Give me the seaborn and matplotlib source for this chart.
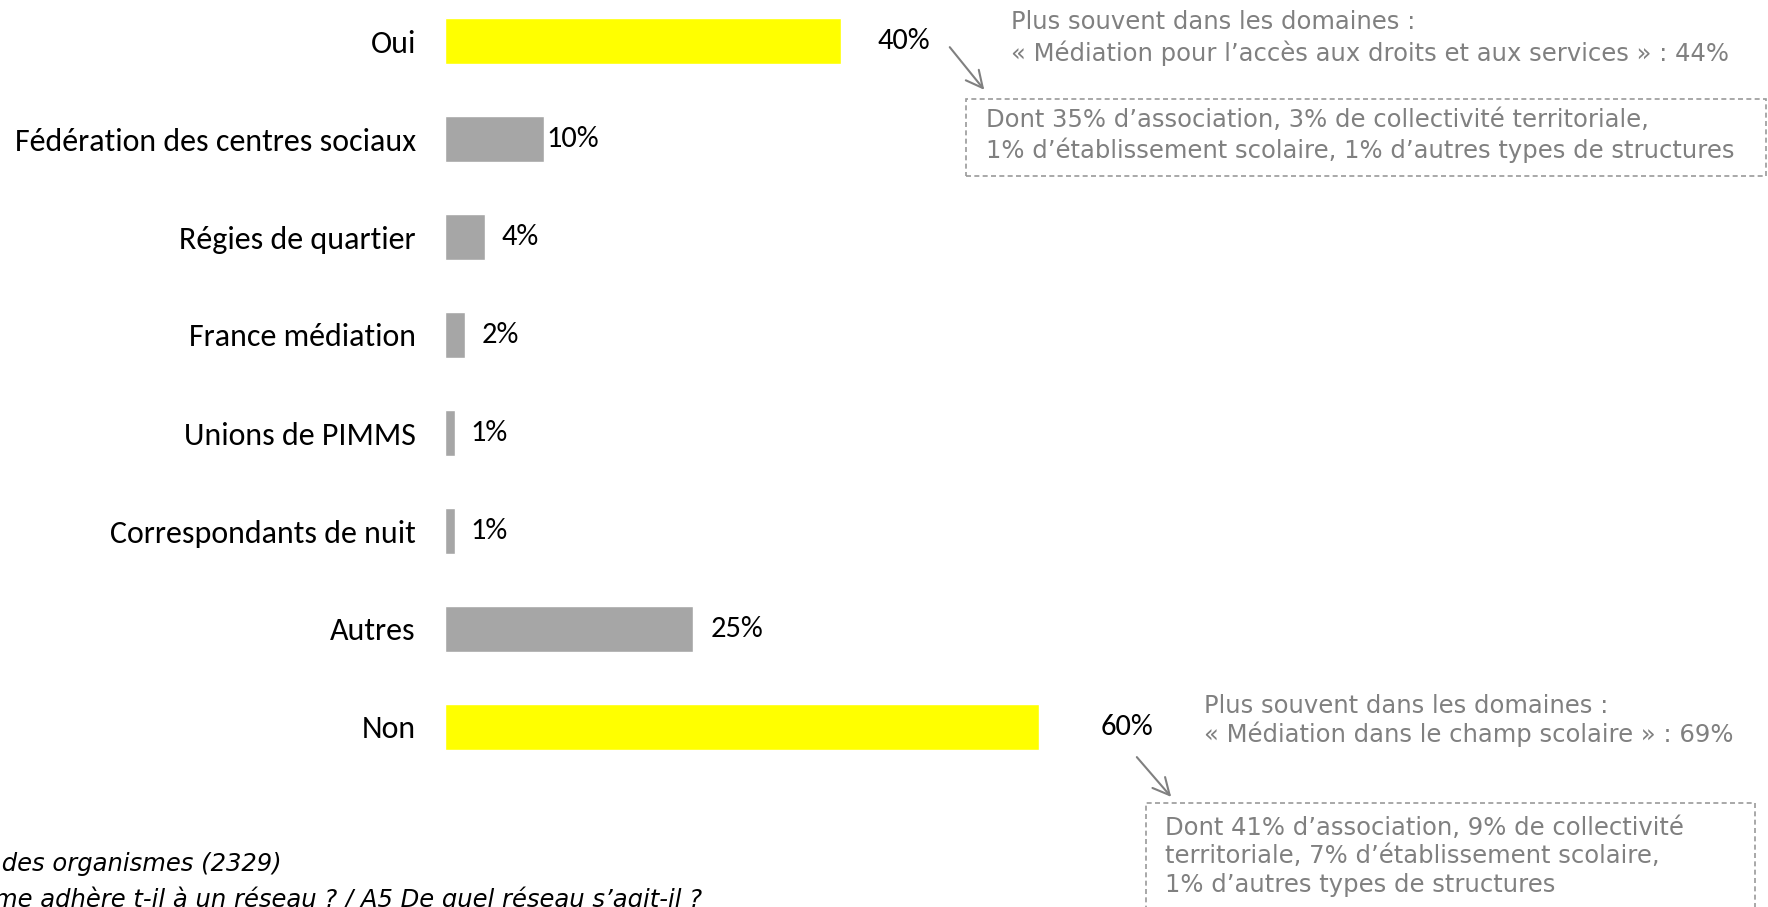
import matplotlib
matplotlib.use("Agg")
import matplotlib.pyplot as plt
import seaborn as sns
import pandas as pd
from matplotlib.patches import Rectangle, FancyArrowPatch

# Data
categories = [
    "Oui",
    "Fédération des centres sociaux",
    "Régies de quartier",
    "France médiation",
    "Unions de PIMMS",
    "Correspondants de nuit",
    "Autres",
    "Non",
]
values = [40, 10, 4, 2, 1, 1, 25, 60]
value_labels = ["40%", "10%", "4%", "2%", "1%", "1%", "25%", "60%"]
bar_colors = ["#FFFF00", "#A6A6A6", "#A6A6A6", "#A6A6A6",
              "#A6A6A6", "#A6A6A6", "#A6A6A6", "#FFFF00"]
# gap (px) between bar end and its value label
label_gaps = [37, 2, 17, 17, 16, 16, 18, 62]

note_oui = ["Plus souvent dans les domaines :",
            "« Médiation pour l’accès aux droits et aux services » : 44%"]
box_oui = ["Dont 35% d’association, 3% de collectivité territoriale,",
           "1% d’établissement scolaire, 1% d’autres types de structures"]
note_non = ["Plus souvent dans les domaines :",
            "« Médiation dans le champ scolaire » : 69%"]
box_non = ["Dont 41% d’association, 9% de collectivité",
           "territoriale, 7% d’établissement scolaire,",
           "1% d’autres types de structures"]
footer = ["Base : ensemble des organismes (2329)",
          "Question : A4 Votre organisme adhère t-il à un réseau ? / A5 De quel réseau s’agit-il ?"]

W, H = 1768, 907
LABEL_FONT = ["Carlito", "DejaVu Sans"]
NOTE_FONT = ["DejaVu Sans"]
GREY_TXT = "#808080"
NOTE_SIZE = 17.5


def fx(x):
    return x / W


def fy(y):
    return 1 - y / H


sns.set_style("white")
plt.rcParams["font.family"] = LABEL_FONT

df = pd.DataFrame({"categorie": categories, "valeur": values})

fig = plt.figure(figsize=(W / 100, H / 100), dpi=100)
ax = fig.add_axes([fx(445), fy(776), 990 / W, 784 / H])

sns.barplot(
    data=df, x="valeur", y="categorie", hue="categorie",
    palette=dict(zip(categories, bar_colors)), order=categories,
    width=0.47, legend=False, saturation=1, ax=ax,
)
ax.set_xlim(0, 100)
ax.set_ylim(len(categories) - 0.5, -0.5)
ax.set_xlabel("")
ax.set_ylabel("")
ax.set_xticks([])
ax.tick_params(axis="y", length=0, pad=21, labelsize=23, labelcolor="black")
sns.despine(ax=ax, left=True, bottom=True)

for i, (v, lab, gap) in enumerate(zip(values, value_labels, label_gaps)):
    ax.annotate(lab, xy=(v, i), xytext=(gap * 0.72, 0), textcoords="offset points",
                ha="left", va="center", fontsize=22, color="black")


def note(x, ys, lines):
    for y, line in zip(ys, lines):
        fig.text(fx(x), fy(y), line, fontsize=NOTE_SIZE, color=GREY_TXT,
                 family=NOTE_FONT, va="center")


def dashed_box(x0, y0, x1, y1):
    fig.add_artist(Rectangle((fx(x0), fy(y1)), fx(x1) - fx(x0), fy(y0) - fy(y1),
                             transform=fig.transFigure, fill=False, edgecolor="#9a9a9a",
                             linestyle=(0, (3, 2)), linewidth=1.2))


def arrow(x0, y0, x1, y1):
    fig.add_artist(FancyArrowPatch((fx(x0), fy(y0)), (fx(x1), fy(y1)),
                                   transform=fig.transFigure, arrowstyle="->",
                                   mutation_scale=30, color="#808080", linewidth=1.5))


# annotations for "Oui"
note(1011, [22, 53], note_oui)
dashed_box(966, 99, 1766, 176)
note(986, [120, 150], box_oui)
arrow(948, 45, 986, 92)

# annotations for "Non"
note(1204, [706, 734], note_non)
dashed_box(1146, 803, 1755, 925)
note(1165, [828, 856, 885], box_non)
arrow(1135, 755, 1173, 799)

# footer, partly cut by the slide crop
fig.text(fx(282), fy(864), footer[0], fontsize=NOTE_SIZE, style="italic", color="black",
         family=NOTE_FONT, ha="right", va="center")
fig.text(fx(702), fy(899), footer[1], fontsize=NOTE_SIZE, style="italic", color="black",
         family=NOTE_FONT, ha="right", va="center")

fig.savefig("out.png", dpi=100)
